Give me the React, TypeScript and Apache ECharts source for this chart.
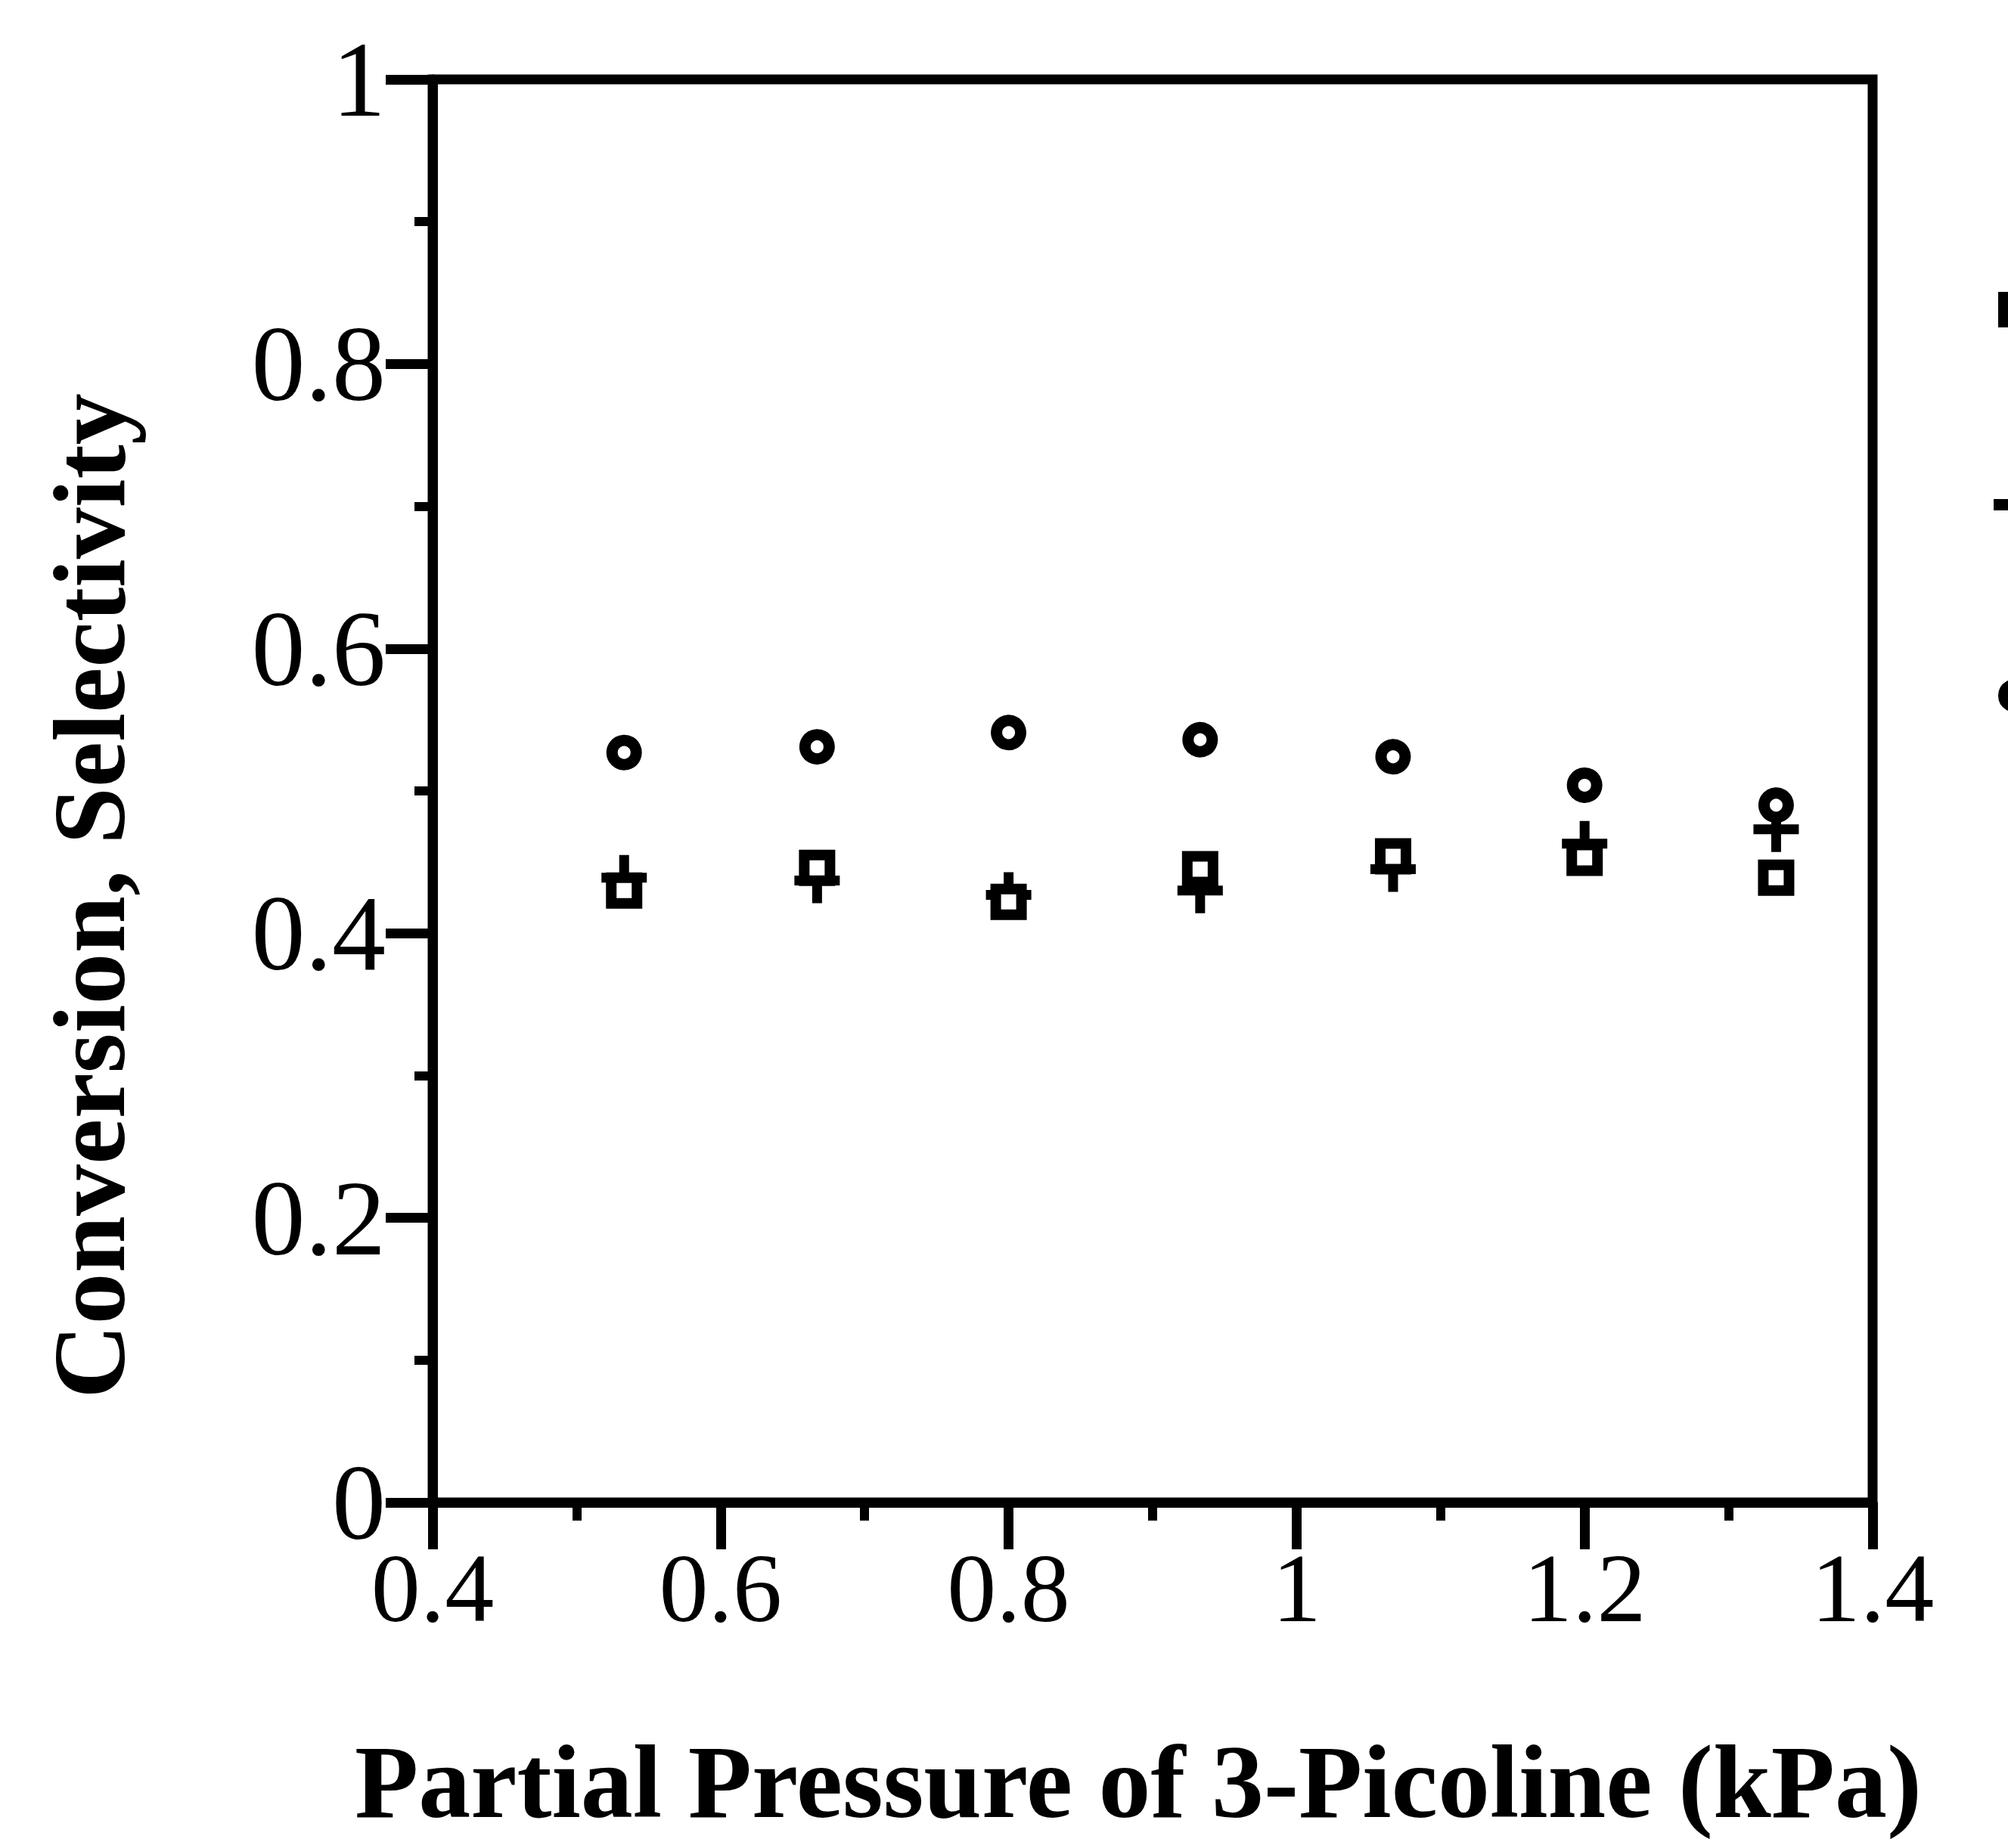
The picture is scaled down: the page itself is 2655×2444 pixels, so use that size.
import React, { useEffect, useRef } from "react";
import * as echarts from "echarts";

// Partial pressure of 3-picoline (kPa)
const pressures = [0.533, 0.667, 0.8, 0.933, 1.067, 1.2, 1.333];
// open circles
const circleValues = [0.527, 0.531, 0.541, 0.536, 0.524, 0.504, 0.49];
// open squares
const squareValues = [0.43, 0.446, 0.422, 0.445, 0.454, 0.453, 0.439];
// plus signs
const plusValues = [0.439, 0.437, 0.427, 0.43, 0.445, 0.463, 0.473];

const xTitle = "Partial Pressure of 3-Picoline (kPa)";
const yTitle = "Conversion, Selectivity";

const SERIF = "'Liberation Serif', 'Times New Roman', serif";
const PLUS = "path://M-6.5,-30H6.5V-6.5H30V6.5H6.5V30H-6.5V6.5H-30V-6.5H-6.5Z";

export default function App() {
  const ref = useRef<HTMLDivElement>(null);
  useEffect(() => {
    document.body.style.margin = "0";
    document.body.style.overflow = "hidden";
    const chart = echarts.init(ref.current!, null, { renderer: "svg" });
    const pts = (ys: number[]) => pressures.map((x, i) => [x, ys[i]]);
    chart.setOption({
      animation: false,
      backgroundColor: "#ffffff",
      grid: {
        left: 572,
        right: 179,
        top: 105,
        bottom: 457,
        show: true,
        borderColor: "#000",
        borderWidth: 13,
        backgroundColor: "transparent",
      },
      xAxis: {
        type: "value",
        min: 0.4,
        max: 1.4,
        interval: 0.2,
        name: xTitle,
        nameLocation: "middle",
        nameGap: 300,
        nameTextStyle: {
          fontFamily: SERIF,
          fontWeight: "bold",
          fontSize: 138,
          color: "#000",
          padding: [0, 38, 0, 0],
        },
        axisLine: { show: true, onZero: false, lineStyle: { color: "#000", width: 13 } },
        axisTick: { show: true, inside: false, length: 62, lineStyle: { color: "#000", width: 13 } },
        minorTick: { show: true, splitNumber: 2, length: 24, lineStyle: { color: "#000", width: 12 } },
        splitLine: { show: false },
        minorSplitLine: { show: false },
        axisLabel: { margin: 48, fontFamily: SERIF, fontSize: 130, color: "#000" },
      },
      yAxis: {
        type: "value",
        min: 0,
        max: 1,
        interval: 0.2,
        axisLine: { show: true, onZero: false, lineStyle: { color: "#000", width: 13 } },
        axisTick: { show: true, inside: false, length: 62, lineStyle: { color: "#000", width: 13 } },
        minorTick: { show: true, splitNumber: 2, length: 24, lineStyle: { color: "#000", width: 12 } },
        splitLine: { show: false },
        minorSplitLine: { show: false },
        axisLabel: { margin: 62, fontFamily: SERIF, fontSize: 142, color: "#000" },
      },
      graphic: [
        {
          type: "text",
          x: 118,
          y: 1185,
          rotation: Math.PI / 2,
          style: {
            text: yTitle,
            fontFamily: SERIF,
            fontWeight: "bold",
            fontSize: 136,
            fill: "#000",
            textAlign: "center",
            textVerticalAlign: "middle",
          },
        },
        {
          type: "rect",
          shape: { x: 2649, y: 393, width: 33, height: 33 },
          style: { fill: "#fff", stroke: "#000", lineWidth: 14 },
        },
        {
          type: "rect",
          shape: { x: 2636, y: 660, width: 60, height: 15 },
          style: { fill: "#000" },
        },
        {
          type: "circle",
          shape: { cx: 2664, cy: 920, r: 15 },
          style: { fill: "#fff", stroke: "#000", lineWidth: 14 },
        },
      ],
      series: [
        {
          name: "Plus",
          type: "scatter",
          data: pts(plusValues),
          symbol: PLUS,
          symbolSize: 60,
          itemStyle: { color: "#000", opacity: 1 },
          silent: true,
          z: 2,
        },
        {
          name: "Square",
          type: "scatter",
          data: pts(squareValues),
          symbol: "rect",
          symbolSize: 34,
          itemStyle: { color: "#fff", borderColor: "#000", borderWidth: 14, opacity: 1 },
          silent: true,
          z: 3,
        },
        {
          name: "Circle",
          type: "scatter",
          data: pts(circleValues),
          symbol: "circle",
          symbolSize: 32,
          itemStyle: { color: "#fff", borderColor: "#000", borderWidth: 15, opacity: 1 },
          silent: true,
          z: 4,
        },
      ],
    });
    return () => chart.dispose();
  }, []);
  return <div ref={ref} style={{ width: 2655, height: 2444 }} />;
}
